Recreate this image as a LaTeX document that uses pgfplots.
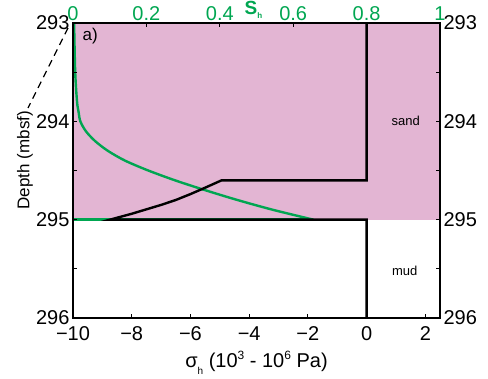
\documentclass[border=0pt]{standalone}
\usepackage{fontspec}
\setmainfont{Liberation Sans}
\usepackage{pgfplots}
\pgfplotsset{compat=1.18}
\definecolor{pinkfill}{RGB}{227,181,211}
\definecolor{shgreen}{RGB}{0,166,81}
\begin{document}
\begin{tikzpicture}
\pgfplotsset{every axis/.append style={
  scale only axis, width=367pt, height=295pt,
  ymin=293, ymax=296, y dir=reverse,
  axis line style={line width=2pt, black},
  tick style={line width=1pt, black},
  major tick length=4pt, minor tick length=4pt,
  tick align=inside,
  ytick={293,294,295,296}, minor ytick={293.5,294.5,295.5},
  /pgf/number format/assume math mode=true,
  tick label style={font=\fontsize{20}{20}\selectfont},
  label style={font=\fontsize{17}{17}\selectfont},
  clip mode=individual,
}}
% Sh axis (top / right)
\begin{axis}[
  at={(0,0)}, anchor=south west,
  axis on top,
  xmin=0, xmax=1,
  xtick={0,0.2,0.4,0.6,0.8,1},
  xticklabels={0,0.2,0.4,0.6,0.8,1},
  xtick pos=right, xticklabel pos=right,
  ytick pos=right, yticklabel pos=right,
  xticklabel style={text=shgreen, yshift=-1pt},
  yticklabels={293,294,295,296},
]
\addplot[fill=pinkfill, draw=none] coordinates {(0,293) (1,293) (1,295) (0,295)} -- cycle;
\addplot[shgreen, line width=2.4pt, smooth] coordinates {
(0.003,293.0) (0.006,293.5) (0.011,293.8) (0.015,293.9) (0.020,294.0)
(0.035,294.1) (0.060,294.2) (0.095,294.3) (0.142,294.4) (0.205,294.5)
(0.278,294.6) (0.360,294.7) (0.448,294.8) (0.545,294.9) (0.655,295.0)};
\addplot[shgreen, line width=2.4pt] coordinates {(0,295.0) (0.655,295.0)};
\node[anchor=base west, text=shgreen, inner sep=0pt] at (axis description cs:0.467,1) [yshift=8pt]
  {\fontsize{19}{19}\selectfont\bfseries S\raisebox{-4pt}{\fontsize{8}{8}\selectfont h}};
\end{axis}
% sigma axis (bottom / left)
\begin{axis}[
  at={(0,0)}, anchor=south west,
  xmin=-10, xmax=2.5,
  xtick={-10,-8,-6,-4,-2,0,2},
  xticklabels={−10,−8,−6,−4,−2,0,2},
  xticklabel style={yshift=-5pt},
  xtick pos=left, ytick pos=left,
  yticklabels={293,294,295,296},
  xlabel={σ\raisebox{-7pt}{\fontsize{10}{10}\selectfont h} (10\raisebox{8pt}{\fontsize{12}{12}\selectfont 3} - 10\raisebox{8pt}{\fontsize{12}{12}\selectfont 6} Pa)},
  xlabel style={font=\fontsize{20}{20}\selectfont, at={(axis description cs:0.5,0)}, anchor=base, yshift=-50pt},
  ylabel={Depth (mbsf)},
  ylabel style={at={(axis description cs:-0.131,0.535)}, anchor=center},
]
\addplot[black, line width=2.4pt, line join=miter] coordinates {
(0,293) (0,294.60) (-4.94,294.60) (-5.5,294.675) (-6.0,294.74) (-6.5,294.80) (-7.0,294.85)
(-7.5,294.895) (-8.0,294.94) (-8.74,295.0) (0,295.0) (0,296)};
\node[anchor=base west, inner sep=0pt] at (axis cs:-9.68,293.18) {\fontsize{17}{17}\selectfont a)};
\node[anchor=center, inner sep=0pt] at (axis cs:1.33,294.0) {\fontsize{13}{13}\selectfont sand};
\node[anchor=center, inner sep=0pt] at (axis cs:1.30,295.52) {\fontsize{13}{13}\selectfont mud};
\end{axis}
\draw[line width=1.2pt, dash pattern=on 7pt off 5pt] (-5pt,290pt) -- (-45pt,210pt);
\pgfresetboundingbox
\path (-73pt,-61pt) rectangle (415pt,318pt);
\end{tikzpicture}
\end{document}
